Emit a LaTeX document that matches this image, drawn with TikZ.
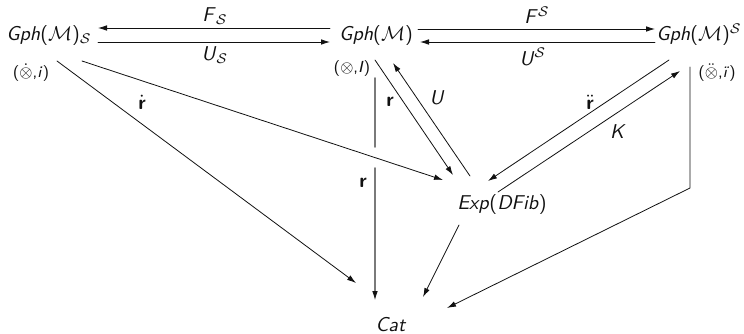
\documentclass[tikz,border=0pt]{standalone}
\usepackage{amsmath,amssymb}
\usepackage{tikz}
\usetikzlibrary{arrows.meta,calc}
\definecolor{Ink}{HTML}{111111}
\definecolor{Rule}{HTML}{7A7A7A}
\newcommand{\gph}{\textit{Gph}($\mathcal{M}$)}

\begin{document}
\begin{tikzpicture}[x=0.5pt,y=-0.5pt,font=\sffamily,
      line cap=round,line join=round,
      obj/.style={inner sep=1pt,text=Ink},
      tag/.style={inner sep=0pt,text=Ink,font=\sffamily\footnotesize},
      lbl/.style={inner sep=1pt,text=Ink},
      arr/.style={draw=Ink,line width=0.4pt,-{Latex[length=4.5pt,width=2.8pt]}},
      ln/.style={draw=Ink,line width=0.4pt}]
    \useasboundingbox (0,0) rectangle (744,333);
    % objects
    \node[obj] (gmS)  at (49,35)  {\gph$_{\mathcal{S}}$};
    \node[obj] (gm)   at (376,35) {\gph};
    \node[obj] (gmSS) at (699,35) {\gph$^{\mathcal{S}}$};
    \node[tag] (tl1)  at (31,73)  {($\dot{\otimes}$,\textit{i})};
    \node[tag] (tl2)  at (352,68) {($\otimes$,\textit{I})};
    \node[tag] (tl3)  at (717,73) {($\ddot{\otimes}$,\textit{\"{\i}})};
    \node[obj] (exp)  at (502,204) {\textit{Exp}(\textit{DFib})};
    \node[obj] (cat)  at (391,325) {\textit{Cat}};

    % top row
    \draw[arr] ($(gm)+(-46,-7)$) -- ($(gmS)+(49,-7)$);
    \draw[arr] ($(gmS)+(49,7)$) -- ($(gm)+(-46,7)$);
    \draw[arr] ($(gm)+(42,-6)$) -- ($(gmSS)+(-44,-6)$);
    \draw[arr] ($(gmSS)+(-44,7)$) -- ($(gm)+(44,7)$);
    \node[lbl] (fS) at (215,16) {\textit{F}$_{\mathcal{S}}$};
    \node[lbl] (uS) at (215,55) {\textit{U}$_{\mathcal{S}}$};
    \node[lbl] (fSS) at (537,15) {\textit{F}$^{\mathcal{S}}$};
    \node[lbl] (uSS) at (533,57) {\textit{U}$^{\mathcal{S}}$};

    % left column
    \draw[arr] ($(tl1)+(26,-12)$) -- ($(cat)+(-35,-42)$);
    \draw[arr] ($(tl1)+(51,-12)$) -- ($(exp)+(-59,-24)$);
    \node[lbl] (rd) at (142,102) {$\dot{\textbf{r}}$};

    % middle column
    \coordinate (gapT) at (375,147);
    \coordinate (gapB) at (375,168);
    \draw[Rule,line width=0.8pt] ($(tl2)+(23,10)$) -- (gapT);
    \draw[Rule,line width=0.8pt,-{Latex[length=4.5pt,width=2.8pt,color=Ink,fill=Ink,line width=0.4pt]}]
      (gapB) -- ($(cat)+(-16,-25)$);
    \draw[arr] ($(tl2)+(23,-8)$) -- ($(exp)+(-49,-29)$);
    \draw[arr] ($(exp)+(-32,-28)$) -- ($(tl2)+(41,-5)$);
    \node[lbl] (r1) at (390,102) {\textbf{r}};
    \node[lbl] (u)  at (437,98)  {\textit{U}};
    \node[lbl] (r2) at (363,183) {\textbf{r}};

    % right column
    \draw[arr] ($(gmSS)+(-30,25)$) -- ($(exp)+(-14,-23)$);
    \draw[arr] ($(exp)+(-4,-12)$) -- ($(gmSS)+(-19,36)$);
    \node[lbl] (rdd) at (590,102) {$\ddot{\textbf{r}}$};
    \node[lbl] (k)   at (618,132) {\textit{K}};
    \coordinate (bend) at (690,188);
    \draw[arr] ($(tl3)+(-27,-6)$) -- (bend) -- ($(cat)+(56,-17)$);
    \draw[arr] ($(exp)+(-43,21)$) -- ($(cat)+(32,-28)$);
  \end{tikzpicture}
\end{document}
